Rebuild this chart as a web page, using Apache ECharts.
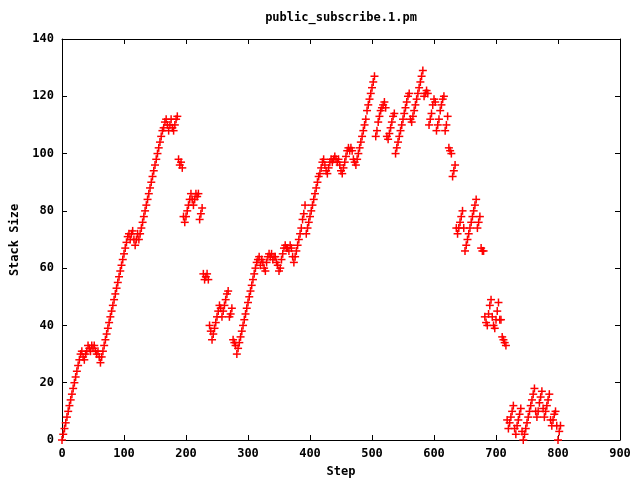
<!DOCTYPE html>
<html>
<head>
<meta charset="utf-8">
<script src="https://cdn.jsdelivr.net/npm/echarts@6/dist/echarts.min.js"></script>
<style>html,body{margin:0;padding:0;background:#fff}#c{width:640px;height:480px}</style>
</head>
<body>
<div id="c"></div>
<script>
const chartTitle = 'public_subscribe.1.pm';
const xName = 'Step';
const yName = 'Stack Size';
const xMin = 0, xMax = 900, xInterval = 100;
const yMin = 0, yMax = 140, yInterval = 20;
// samples are taken every 2 steps, starting at step 0
const stepStart = 0;
const stepSpacing = 2;
const stackSize = [
  0,2,4,6,8,10,12,14,16,18,20,22,24,26,28,30,
  31,29,28,30,31,33,32,31,33,32,33,31,30,31,29,27,29,
  31,33,35,37,39,41,43,45,47,49,51,53,55,57,59,61,63,65,67,69,
  71,72,70,72,73,70,68,70,72,70,
  72,74,76,78,80,82,84,86,88,90,92,94,96,98,100,102,104,106,108,
  109,111,112,110,108,110,112,109,108,110,112,113,
  98,96,97,95,
  78,76,78,80,82,84,86,84,82,84,86,85,86,77,79,81,
  58,56,57,58,56,
  40,38,35,37,39,41,43,45,47,46,43,45,47,49,51,52,43,44,46,35,34,33,30,
  32,34,36,38,40,42,44,46,48,50,52,54,56,58,60,62,63,
  64,61,63,62,60,59,62,64,65,64,65,63,64,64,62,61,59,60,63,65,67,68,67,67,66,68,67,64,62,
  64,66,68,70,72,74,77,79,82,
  72,74,76,78,80,82,84,86,88,90,92,93,95,97,98,
  96,94,93,95,97,98,97,98,99,98,97,98,96,94,93,95,97,99,101,102,101,102,101,98,97,96,
  98,100,102,104,106,108,110,112,115,117,119,121,123,125,127,
  106,108,111,113,115,116,117,118,116,106,105,107,109,111,113,114,
  100,102,104,106,108,110,112,114,116,118,120,121,
  112,111,113,115,117,119,121,123,125,127,129,120,121,122,121,
  110,112,114,117,119,118,108,110,112,115,117,119,120,108,110,113,
  102,101,100,92,94,96,
  74,72,74,76,78,80,74,66,68,70,72,74,76,78,80,82,84,74,76,78,67,66,66,
  43,41,40,44,47,49,43,40,39,42,45,48,42,42,36,35,34,33,
  7,4,6,8,10,12,4,2,5,7,9,11,3,0,2,4,6,8,10,12,14,16,18,10,8,10,13,15,17,11,8,10,12,14,16,7,5,7,9,10,5,0,3,5
];

const points = stackSize.map((v, i) => [stepStart + i * stepSpacing, v]);

const FONT = '"DejaVu Sans Mono", "Liberation Mono", monospace';
const RED = '#ff0000';
const chart = echarts.init(document.getElementById('c'), null, {renderer: 'canvas'});

function axisBase(min, max, interval, showLabel) {
  return {
    type: 'value', min: min, max: max, interval: interval,
    axisLine: {show: true, onZero: false, lineStyle: {color: '#000', width: 1}},
    axisTick: {show: true, inside: true, length: 5, lineStyle: {color: '#000', width: 1}},
    axisLabel: {show: showLabel, color: '#000', fontFamily: FONT, fontWeight: 'bold', fontSize: 12, margin: 8},
    splitLine: {show: false}
  };
}

function plusPart(size) {
  return {
    type: 'scatter',
    xAxisIndex: 0, yAxisIndex: 0,
    data: points,
    symbol: 'rect',
    symbolSize: size,
    clip: false,
    silent: true,
    progressive: 0,
    large: false,
    itemStyle: {color: RED, opacity: 1, borderWidth: 0},
    emphasis: {disabled: true}
  };
}

chart.setOption({
  animation: false,
  backgroundColor: '#fff',
  grid: {left: 62, right: 20, top: 39, bottom: 40},
  xAxis: [
    Object.assign(axisBase(xMin, xMax, xInterval, true), {position: 'bottom'}),
    Object.assign(axisBase(xMin, xMax, xInterval, false), {position: 'top'})
  ],
  yAxis: [
    Object.assign(axisBase(yMin, yMax, yInterval, true), {position: 'left'}),
    Object.assign(axisBase(yMin, yMax, yInterval, false), {position: 'right'})
  ],
  graphic: [
    {type: 'text', x: 341, y: 18, style: {text: chartTitle, font: 'bold 12px ' + FONT, fill: '#000', align: 'center', verticalAlign: 'middle'}},
    {type: 'text', x: 341, y: 472, style: {text: xName, font: 'bold 12px ' + FONT, fill: '#000', align: 'center', verticalAlign: 'middle'}},
    {type: 'text', x: 15, y: 240, rotation: Math.PI / 2, style: {text: yName, font: 'bold 12px ' + FONT, fill: '#000', align: 'center', verticalAlign: 'middle'}}
  ],
  series: [plusPart([8, 1.5]), plusPart([1.5, 8])]
});
</script>
</body>
</html>
